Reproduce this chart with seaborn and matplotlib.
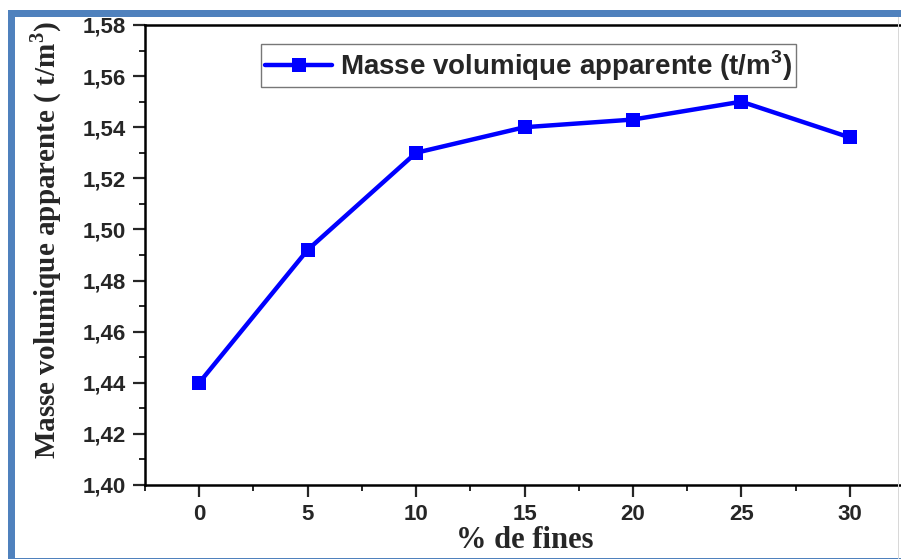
import matplotlib
matplotlib.use("Agg")
import matplotlib.pyplot as plt
from matplotlib.ticker import MultipleLocator, FuncFormatter
from matplotlib.patches import Rectangle
import seaborn as sns
import pandas as pd

# Bulk density as a function of fines content
fines = [0, 5, 10, 15, 20, 25, 30]
masse_volumique = [1.440, 1.492, 1.530, 1.540, 1.543, 1.550, 1.536]
serie_label = "Masse volumique apparente (t/m$^{\\mathregular{3}}$)"
x_title = "% de fines"
y_title = "Masse volumique apparente ( t/m$^{\\mathbf{3}}$)"

df = pd.DataFrame({"fines": fines, "masse": masse_volumique})

sns.set_style("ticks")
plt.rcParams["font.family"] = ["Liberation Sans", "DejaVu Sans"]
plt.rcParams["mathtext.fontset"] = "custom"
plt.rcParams["mathtext.rm"] = "Liberation Sans"
plt.rcParams["mathtext.bf"] = "Liberation Serif:bold"

W, H = 901, 560
fig = plt.figure(figsize=(W / 100, H / 100), dpi=100)
fig.patch.set_facecolor("white")

# axes box in pixel terms: left 145, right 904 (beyond the frame), top 25, bottom 485
ax = fig.add_axes([145 / W, (H - 485) / H, 759 / W, 460 / H])

sns.lineplot(data=df, x="fines", y="masse", ax=ax, color="#0000FF",
             linewidth=3.2, marker="s", markersize=10, markeredgewidth=0,
             label=serie_label)

ax.set_xlim(-2.5, 32.5)
ax.set_ylim(1.40, 1.58)
ax.xaxis.set_major_locator(MultipleLocator(5))
ax.xaxis.set_minor_locator(MultipleLocator(2.5))
ax.yaxis.set_major_locator(MultipleLocator(0.02))
ax.yaxis.set_minor_locator(MultipleLocator(0.01))
ax.yaxis.set_major_formatter(FuncFormatter(lambda v, p: f"{v:.2f}".replace(".", ",")))
ax.xaxis.set_major_formatter(FuncFormatter(lambda v, p: f"{v:.0f}"))

ax.tick_params(axis="both", which="major", direction="out", length=8.5, width=1.6,
               labelsize=16, pad=5)
ax.tick_params(axis="both", which="minor", direction="out", length=4.5, width=1.4)
ax.tick_params(top=False, right=False, which="both")
for lab in ax.get_xticklabels() + ax.get_yticklabels():
    lab.set_fontweight("bold")
for s in ax.spines.values():
    s.set_linewidth(1.8)
    s.set_color("black")
    s.set_visible(True)

ax.set_xlabel(x_title, fontsize=22, fontweight="bold", family=["Liberation Serif"])
ax.xaxis.set_label_coords(0.5, -(541 - 485) / 460)
ax.xaxis.label.set_va("center")
ax.set_ylabel(y_title, fontsize=21, fontweight="bold", family=["Liberation Serif"])
ax.yaxis.set_label_coords((46 - 145) / 759, (485 - 240) / 460)
ax.yaxis.label.set_va("center")

leg = ax.legend(loc="upper left", bbox_to_anchor=((261 - 145) / 759, (485 - 44) / 460),
                frameon=True, fancybox=False, edgecolor="#555555", borderpad=0.15,
                handlelength=2.4, handletextpad=0.3, borderaxespad=0,
                prop={"family": "Liberation Sans", "weight": "bold", "size": 20})
leg.get_frame().set_linewidth(1.0)

# blue page frame
blue = "#4F81BD"
fig.add_artist(Rectangle((8 / W, (H - 17) / H), (W - 8) / W, 7 / H,
                         transform=fig.transFigure, color=blue, lw=0, zorder=10))
fig.add_artist(Rectangle((8 / W, (H - 559) / H), 7 / W, 549 / H,
                         transform=fig.transFigure, color=blue, lw=0, zorder=10))
fig.add_artist(Rectangle((8 / W, (H - 559) / H), (W - 8) / W, 1.5 / H,
                         transform=fig.transFigure, color=blue, lw=0, zorder=10))
fig.add_artist(Rectangle((898 / W, (H - 559) / H), 1.2 / W, 542 / H,
                         transform=fig.transFigure, color="#d8d8d8", lw=0, zorder=10))

fig.savefig("out.png", dpi=100)
